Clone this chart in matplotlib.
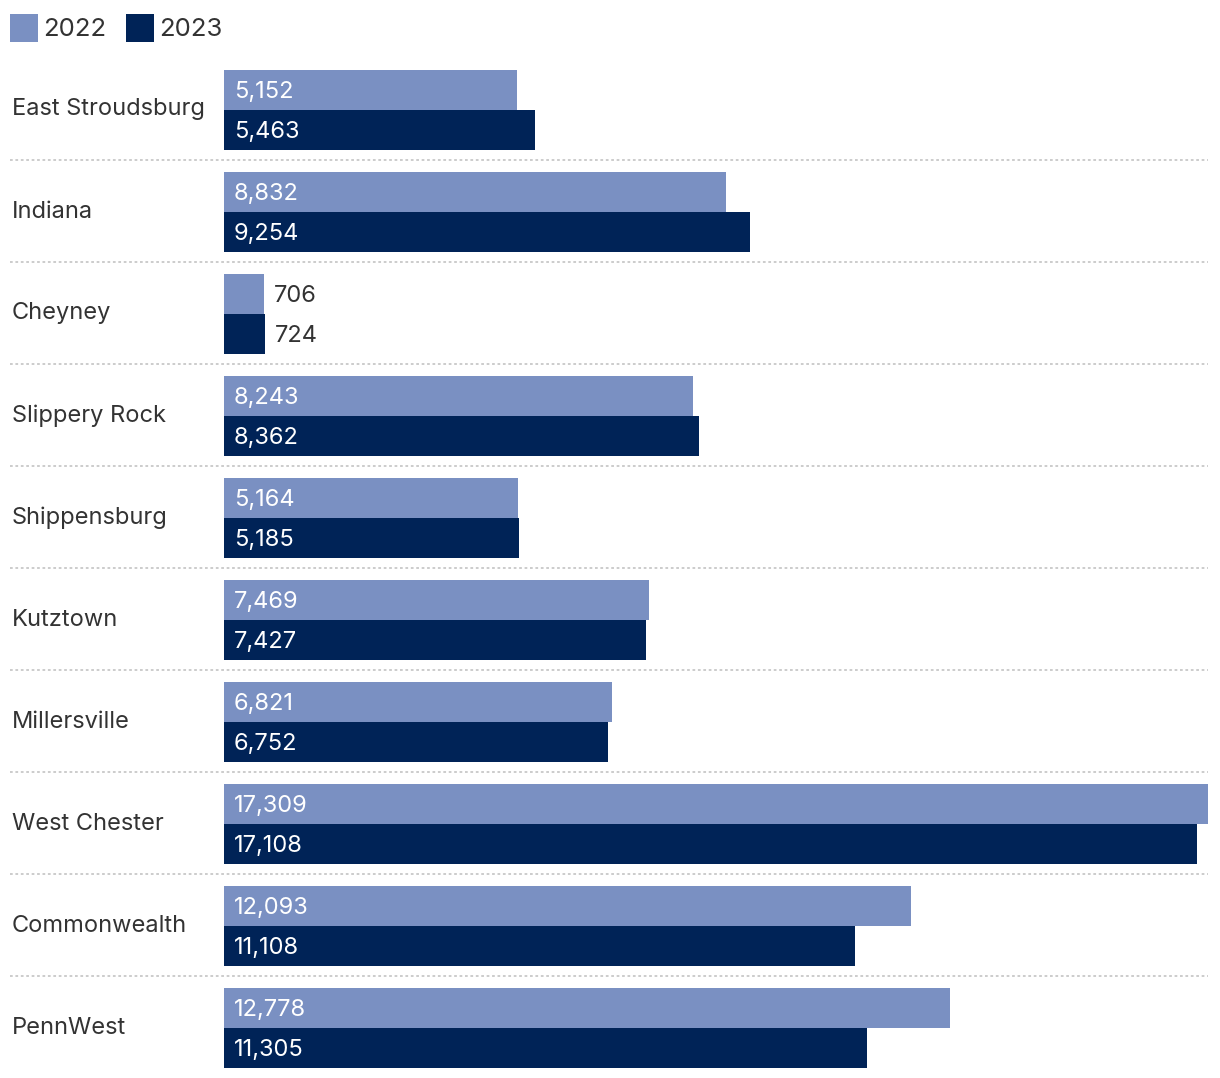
import matplotlib.pyplot as plt
import matplotlib.transforms as mtransforms
import numpy as np
from matplotlib.patches import Rectangle

plt.rcParams['font.family'] = ['Inter', 'DejaVu Sans']

#data
schools = ['East Stroudsburg', 'Indiana', 'Cheyney', 'Slippery Rock', 'Shippensburg',
           'Kutztown', 'Millersville', 'West Chester', 'Commonwealth', 'PennWest']
vals_2022 = [5152, 8832, 706, 8243, 5164, 7469, 6821, 17309, 12093, 12778]
vals_2023 = [5463, 9254, 724, 8362, 5185, 7427, 6752, 17108, 11108, 11305]
years = ['2022', '2023']

light = '#7a90c2'
dark = '#002357'
txt = '#333333'

W, H = 1220, 1078
fig = plt.figure(figsize=(W / 100, H / 100), dpi=100)

#axes spans full height, x from bar start to widest bar end
ax = fig.add_axes([224 / W, 0, 984 / W, 1])
pitch = 102
ax.set_ylim((H - 110) / pitch, -110 / pitch)
ax.set_xlim(0, max(vals_2022 + vals_2023))
ax.axis('off')

y = np.arange(len(schools))
h = 40 / pitch
ax.barh(y - h / 2, vals_2022, height=h, color=light, linewidth=0)
ax.barh(y + h / 2, vals_2023, height=h, color=dark, linewidth=0)

xmax = ax.get_xlim()[1]
pad = 10 / 984 * xmax
dy = 1.5 / pitch  # nudge value text down a touch
for i in range(len(schools)):
    for v, yy in [(vals_2022[i], y[i] - h / 2), (vals_2023[i], y[i] + h / 2)]:
        s = f'{v:,}'
        if v > 2000:
            ax.text(pad, yy + dy, s, color='white', fontsize=17, va='center', ha='left')
        else:
            ax.text(v + pad, yy + dy, s, color=txt, fontsize=17, va='center', ha='left')

#category labels + dotted separators, x in figure coords, y in data coords
trans = mtransforms.blended_transform_factory(fig.transFigure, ax.transData)
for i, s in enumerate(schools):
    fig.text(12 / W, y[i] - 0.5 / pitch, s, color=txt, fontsize=17, va='center', ha='left',
             transform=trans)
    if i < len(schools) - 1:
        sep = y[i] + 50 / pitch
        fig.add_artist(plt.Line2D([10 / W, 1208 / W], [sep, sep], transform=trans,
                                  color='#c8c8c8', linewidth=1.3, linestyle=(0, (1.5, 1.5))))

#legend at the top
lx = [10, 126]
for x0, yr, c in zip(lx, years, [light, dark]):
    fig.add_artist(Rectangle((x0 / W, 1 - 42 / H), 28 / W, 28 / H, transform=fig.transFigure,
                             color=c, linewidth=0))
    fig.text((x0 + 33) / W, 1 - 29.5 / H, yr, color=txt, fontsize=18.5, va='center', ha='left')

plt.savefig('out.png', dpi=100)
